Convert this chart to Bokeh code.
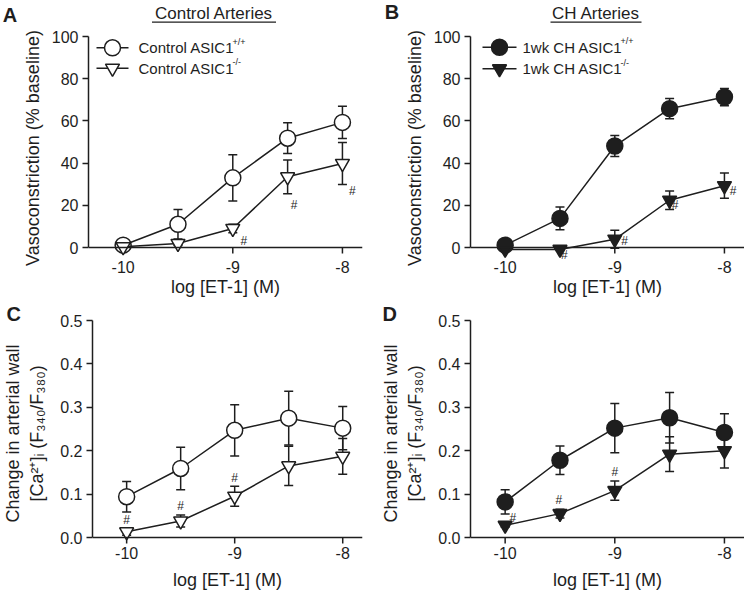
from bokeh.plotting import figure
from bokeh.layouts import column, row
from bokeh.models import (Whisker, TeeHead, ColumnDataSource, FixedTicker, Span,
                          Label, Range1d, Title)
from bokeh.core.properties import value
from bokeh.embed import file_html
from bokeh.resources import INLINE

FONT = "Liberation Sans"
INK = "#1e1e1e"

# ---------------- data ----------------
log_et1 = [-10, -9.5, -9, -8.5, -8]
x_ticks = [-10, -9, -8]
x_tick_labels = ["-10", "-9", "-8"]
vc_ticks = [0, 20, 40, 60, 80, 100]
vc_tick_labels = ["0", "20", "40", "60", "80", "100"]
ca_ticks = [0.0, 0.1, 0.2, 0.3, 0.4, 0.5]
ca_tick_labels = ["0.0", "0.1", "0.2", "0.3", "0.4", "0.5"]

# Panel A: control arteries, vasoconstriction (% baseline)
ctrl_wt_vc = [1.1, 11.0, 33.0, 51.8, 59.3]
ctrl_wt_vc_err = [1.0, 7.0, 11.0, 7.3, 7.6]
ctrl_ko_vc = [0.3, 1.9, 9.0, 33.5, 39.8]
ctrl_ko_vc_err = [0.5, 1.0, 2.0, 8.0, 10.0]
# Panel B: 1wk CH arteries
ch_wt_vc = [1.1, 13.8, 48.1, 65.8, 71.3]
ch_wt_vc_err = [1.0, 5.4, 5.0, 4.8, 4.1]
ch_ko_vc = [-0.9, -0.9, 3.9, 22.4, 29.3]
ch_ko_vc_err = [0.5, 0.5, 4.3, 4.4, 6.0]
# Panel C: control arteries, change in [Ca2+]i
ctrl_wt_ca = [0.094, 0.159, 0.247, 0.275, 0.252]
ctrl_wt_ca_err = [0.035, 0.049, 0.059, 0.062, 0.050]
ctrl_ko_ca = [0.013, 0.038, 0.095, 0.165, 0.187]
ctrl_ko_ca_err = [0.008, 0.014, 0.023, 0.045, 0.041]
# Panel D: 1wk CH arteries
ch_wt_ca = [0.082, 0.178, 0.252, 0.276, 0.242]
ch_wt_ca_err = [0.028, 0.033, 0.057, 0.058, 0.043]
ch_ko_ca = [0.028, 0.055, 0.108, 0.192, 0.200]
ch_ko_ca_err = [0.004, 0.010, 0.022, 0.040, 0.040]

# significance markers (#): x, y
hash_a_x = [-8.9, -8.44, -7.91]
hash_a_y = [3.2, 20.0, 26.8]
hash_b_x = [-9.46, -8.91, -8.45, -7.92]
hash_b_y = [-3.6, 3.2, 20.0, 26.8]
hash_c_x = [-10.0, -9.5, -9.0]
hash_c_y = [0.040, 0.073, 0.138]
hash_d_x = [-9.93, -9.51, -9.0]
hash_d_y = [0.046, 0.086, 0.152]

# ---------------- layout constants ----------------
XR = (-10.316, -7.817)
COLW, FW = 372, 274
HDR_H = 27
TOP_H, TOP_TB, TOP_FH, TOP_BB = 272, 9, 223, 40
BOT_H, BOT_TB, BOT_FH, BOT_BB = 295, 21, 226, 48
VC_PPU = 2.11     # px per % unit
CA_PPU = 434.0    # px per ratio unit
VC_RANGE = (100 - TOP_FH / VC_PPU, 100)
CA_RANGE = (0.5 - BOT_FH / CA_PPU, 0.5)


def panel(col, top_row, ylabel, yticks, ytick_labels, letter=None):
    left = 88 if col == 0 else 98
    right = COLW - left - FW
    if top_row:
        h, tb, fh, bb, yr = TOP_H, TOP_TB, TOP_FH, TOP_BB, VC_RANGE
    else:
        h, tb, fh, bb, yr = BOT_H, BOT_TB, BOT_FH, BOT_BB, CA_RANGE
    p = figure(width=COLW, height=h, x_range=Range1d(*XR), y_range=Range1d(*yr),
               output_backend="svg", toolbar_location=None,
               min_border_left=left, min_border_right=right,
               min_border_top=tb, min_border_bottom=bb)
    p.outline_line_color = None
    p.grid.visible = False
    p.background_fill_color = "white"
    p.border_fill_color = "white"

    ax = p.xaxis[0]
    ax.ticker = FixedTicker(ticks=x_ticks)
    ax.major_label_overrides = dict(zip(x_ticks, x_tick_labels))
    ax.axis_line_color = None
    ax.major_tick_line_color = None
    ax.minor_tick_line_color = None
    ax.major_tick_out = 0
    ax.major_tick_in = 0
    ax.major_label_standoff = 1 if top_row else 0
    ax.axis_label = "log [ET-1] (M)"
    ax.axis_label_standoff = 1 if top_row else 8

    ay = p.yaxis[0]
    ay.ticker = FixedTicker(ticks=yticks)
    ay.major_label_overrides = dict(zip(yticks, ytick_labels))
    ay.bounds = (yticks[0], yticks[-1])
    ay.axis_line_width = 1.5
    ay.axis_line_color = INK
    ay.major_tick_line_color = INK
    ay.major_tick_line_width = 1.5
    ay.major_tick_out = 6
    ay.major_tick_in = 0
    ay.minor_tick_line_color = None
    ay.major_label_standoff = 4
    ay.axis_label = ylabel
    ay.axis_label_standoff = 6 if top_row else 10

    for a in (ax, ay):
        a.major_label_text_font = FONT
        a.major_label_text_font_size = "16px"
        a.major_label_text_color = INK
        a.axis_label_text_font = FONT
        a.axis_label_text_font_size = "18px"
        a.axis_label_text_font_style = "normal"
        a.axis_label_text_color = INK

    # x axis line and ticks drawn at y = 0
    p.add_layout(Span(location=0, dimension="width", line_color=INK, line_width=1.5))
    ppu = fh / (yr[1] - yr[0])
    tl = 6 / ppu
    p.segment(x0=x_ticks, y0=[0] * len(x_ticks), x1=x_ticks, y1=[-tl] * len(x_ticks),
              line_color=INK, line_width=1.5)

    if letter is not None:
        lx = 2 if col == 0 else 10
        p.add_layout(Title(text=letter, align="left", offset=lx - left,
                           vertical_align="bottom", standoff=-8, text_font=FONT,
                           text_font_size="20px", text_font_style="bold",
                           text_color=INK), "above")

    # helpers converting page pixel positions (within the column) into data units
    def dx(px):
        return XR[0] + (px - left) / FW * (XR[1] - XR[0])

    def dy(py):  # py measured from the top of the frame
        return yr[1] - py / ppu

    return p, dx, dy


def series(p, y, err, marker, fill, size):
    src = ColumnDataSource(dict(x=log_et1, y=y,
                                upper=[v + e for v, e in zip(y, err)],
                                lower=[v - e for v, e in zip(y, err)]))
    w = Whisker(source=src, base="x", upper="upper", lower="lower", level="underlay",
                line_color=INK, line_width=1.5,
                upper_head=TeeHead(size=9, line_color=INK, line_width=1.5),
                lower_head=TeeHead(size=9, line_color=INK, line_width=1.5))
    p.add_layout(w)
    p.line("x", "y", source=src, line_color=INK, line_width=1.5)
    p.scatter("x", "y", source=src, marker=marker, size=size, fill_color=fill,
              line_color=INK, line_width=1.5)


def hashes(p, xs, ys):
    p.text(x=xs, y=ys, text=["#"] * len(xs), text_font=value(FONT), text_font_size="12px",
           text_color=INK, text_align="center", text_baseline="middle")


def legend(p, dx, dy, names, markers, fills, sups, lx0, lx1, tx, rows_py, textw):
    for name, m, f, sup, py in zip(names, markers, fills, sups, rows_py):
        yy = dy(py)
        p.segment(x0=[dx(lx0)], y0=[yy], x1=[dx(lx1)], y1=[yy], line_color=INK, line_width=1.5)
        p.scatter(x=[dx((lx0 + lx1) / 2)], y=[yy], marker=m, size=16 if m == "circle" else 14,
                  fill_color=f, line_color=INK, line_width=1.5)
        p.add_layout(Label(x=dx(tx), y=yy, text=name, text_font=FONT, text_font_size="15px",
                           text_color=INK, text_baseline="middle", text_align="left"))
        p.add_layout(Label(x=dx(tx), y=yy, x_offset=textw - 2, y_offset=6, text=sup,
                           text_font=FONT, text_font_size="9px", text_color=INK,
                           text_baseline="middle", text_align="left"))


def header(letter, lx, ly, title_text, tcx, tcy, tw, uy):
    h = figure(width=COLW, height=HDR_H, x_range=Range1d(0, COLW), y_range=Range1d(HDR_H, 0),
               x_axis_type=None, y_axis_type=None, output_backend="svg",
               toolbar_location=None, min_border=0)
    h.outline_line_color = None
    h.background_fill_color = "white"
    h.border_fill_color = "white"
    h.text(x=[lx], y=[ly], text=[letter], text_font=value(FONT), text_font_size="20px",
           text_font_style="bold", text_color=INK, text_align="center", text_baseline="middle")
    h.text(x=[tcx], y=[tcy], text=[title_text], text_font=value(FONT), text_font_size="17px",
           text_color=INK, text_align="center", text_baseline="middle")
    h.segment(x0=[tcx - tw / 2], y0=[uy], x1=[tcx + tw / 2], y1=[uy],
              line_color=INK, line_width=1.3)
    return h


# ---------------- panels ----------------
vc_label = "Vasoconstriction (% baseline)"
ca_label = "Change in arterial wall\n[Ca\u00b2\u207a]\u1d62 (F\u2083\u2084\u2080/F\u2083\u2088\u2080)"

hA = header("A", 9.5, 14, "Control Arteries", 213.5, 12.5, 124, 21.7)
hB = header("B", 19.5, 11, "CH Arteries", 223.5, 12.5, 91, 21.7)

pA, dxA, dyA = panel(0, True, vc_label, vc_ticks, vc_tick_labels)
series(pA, ctrl_wt_vc, ctrl_wt_vc_err, "circle", "white", 16)
series(pA, ctrl_ko_vc, ctrl_ko_vc_err, "inverted_triangle", "white", 14)
hashes(pA, hash_a_x, hash_a_y)
legend(pA, dxA, dyA, ["Control ASIC1", "Control ASIC1"], ["circle", "inverted_triangle"],
       ["white", "white"], ["+/+", "-/-"], 96, 128, 138, [11.3, 31.7], 96)

pB, dxB, dyB = panel(1, True, vc_label, vc_ticks, vc_tick_labels)
series(pB, ch_wt_vc, ch_wt_vc_err, "circle", INK, 16)
series(pB, ch_ko_vc, ch_ko_vc_err, "inverted_triangle", INK, 14)
hashes(pB, hash_b_x, hash_b_y)
legend(pB, dxB, dyB, ["1wk CH ASIC1", "1wk CH ASIC1"], ["circle", "inverted_triangle"],
       [INK, INK], ["+/+", "-/-"], 110, 144, 150, [10.7, 32.3], 100)

pC, dxC, dyC = panel(0, False, ca_label, ca_ticks, ca_tick_labels, letter="C")
series(pC, ctrl_wt_ca, ctrl_wt_ca_err, "circle", "white", 16)
series(pC, ctrl_ko_ca, ctrl_ko_ca_err, "inverted_triangle", "white", 14)
hashes(pC, hash_c_x, hash_c_y)

pD, dxD, dyD = panel(1, False, ca_label, ca_ticks, ca_tick_labels, letter="D")
series(pD, ch_wt_ca, ch_wt_ca_err, "circle", INK, 16)
series(pD, ch_ko_ca, ch_ko_ca_err, "inverted_triangle", INK, 14)
hashes(pD, hash_d_x, hash_d_y)

layout = column(row(hA, hB), row(pA, pB), row(pC, pD))
open("out.html", "w").write(file_html(layout, INLINE))
